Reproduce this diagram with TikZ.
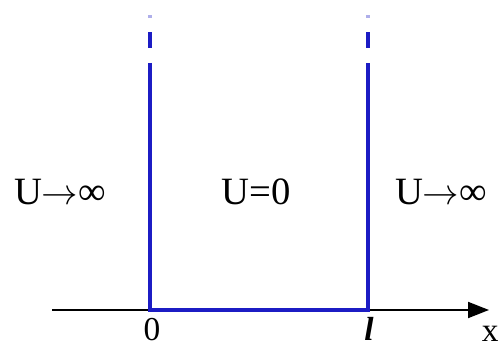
\documentclass[tikz,border=0pt]{standalone}
\usepackage{fontspec}
\setmainfont{Liberation Serif}
\usetikzlibrary{arrows.meta,positioning}
\definecolor{wallblue}{HTML}{1C1CC4}

\begin{document}
\begin{tikzpicture}[
wall/.style={wallblue,line width=2.4pt},
tip/.style={wallblue!35,line width=2pt},
axis/.style={-{Triangle[length=4.2mm,width=3.2mm]},line width=1.1pt},
lbl/.style={font=\fontsize{22}{26}\selectfont,inner sep=0pt},
tick/.style={font=\fontsize{19}{22}\selectfont,inner sep=0pt,anchor=base}
]
\useasboundingbox (0,0) rectangle (10.02,6.94);
% axis and the two walls
\coordinate (xs) at (1.04,0.74);
\coordinate (xe) at (9.78,0.74);
\coordinate (o) at (3.0,0.74);
\coordinate (l) at (7.36,0.74);
\coordinate (otop) at (3.0,5.68);
\coordinate (ltop) at (7.36,5.68);
\draw[axis] (xs) -- (xe);
\draw[wall] (otop) -- (o) -- (l) -- (ltop);
\draw[wall] (3.0,5.98) -- (3.0,6.30);
\draw[wall] (7.36,5.98) -- (7.36,6.30);
\draw[tip] (3.0,6.58) -- (3.0,6.64);
\draw[tip] (7.36,6.58) -- (7.36,6.64);
% labels
\node[lbl] (uleft) at (1.2,3.1) {U$\rightarrow$∞};
\node[lbl] (umid) at (5.12,3.1) {U=0};
\node[lbl] (uright) at (8.82,3.1) {U$\rightarrow$∞};
\node[tick] (zero) at (3.04,0.12) {0};
\node[tick] (ell) at (7.38,0.12) {\textbf{\textit{l}}};
\node[tick,anchor=base east] (xlbl) at (9.98,0.1) {x};
\end{tikzpicture}
\end{document}
